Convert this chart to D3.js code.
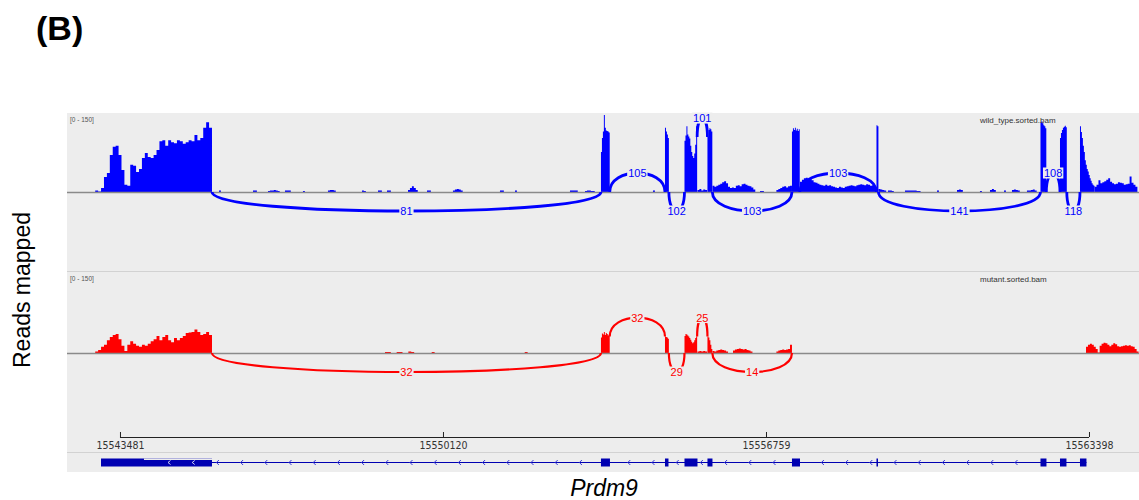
<!DOCTYPE html>
<html><head><meta charset="utf-8">
<script src="https://cdn.jsdelivr.net/npm/d3@7"></script>
<style>body{margin:0;background:#fff;} svg{display:block;}</style>
</head><body><svg id="c" width="1139" height="500"></svg>
<script>
// ================= DATA =================
const locusStart = 15542392, locusEnd = 15564426;
const tickPositions = [15543481, 15550120, 15556759, 15563398];
const tickLabels = ["15543481", "15550120", "15556759", "15563398"];
const dataRange = [0, 150];
const rangeLabel = "[0 - 150]";
const trackNames = ["wild_type.sorted.bam", "mutant.sorted.bam"];
const geneName = "Prdm9";
const panelLabel = "(B)";
const yTitle = "Reads mapped";

// coverage segments: [start, bin size (bp), read depth per bin]
const wtCoverage = [
  [15542972, 60, [3,1,8,29,37,72,88,90,72,43,14,12,53,51,39,45,66,76,68,66,72,82,99,101,90,101,97,95,101,99,94,97,101,99,111,101,105,125,136,125]],
  [15545516, 40, [3]], [15546215, 40, [3,3]], [15546523, 40, [2,3,3,4,3,2]],
  [15546872, 40, [3,3,3]], [15547242, 40, [2]], [15547756, 40, [3,4,4,3]],
  [15548455, 40, [3,2]], [15548784, 40, [3,3]], [15548969, 40, [3,3]],
  [15549401, 40, [4,8,11,8,4]], [15549791, 40, [3,3]], [15550325, 40, [3,5,6,5,3]],
  [15551291, 40, [3,3]], [15551600, 40, [3]], [15552730, 40, [3,3,3,3]],
  [15553039, 40, [2,3,3,2,2]],
  [15553367, 20, [78,105,118,150,125,120,119,118,116]],
  [15554436, 40, [3]],
  [15554683, 20, [125,118,112,105]],
  [15555084, 20, [100,110,128,112,108,104,90,78,70,66,75,92,128]],
  [15555350, 40, [4,6,3,5,4]],
  [15555556, 20, [107,121,124,122,118]],
  [15555659, 40, [12,10,12,14,16,19,21,17,10,8,9,8,12,13,11,15,16,14,12,11,9,5]],
  [15556636, 40, [2,2]],
  [15556973, 40, [4,6,8,10,11,9,11,12]],
  [15557293, 20, [118,124,121,125,120,123,119,122]],
  [15557458, 40, [20,24,27,28,26,27,23,19,18,16,14,13,12,14,12,13,11,10,9,8,10,9,8,10,11,12,13,12,11,13,14,15,14,13,15,14,12,13,11]],
  [15559030, 20, [130,128]],
  [15559070, 40, [6,5,4,3]],
  [15559266, 40, [3,3,2]], [15559616, 40, [3,3,3,3,3,3,2,2]], [15560274, 40, [3]],
  [15560685, 40, [4,5,4]], [15561157, 40, [2]], [15561363, 40, [4,6,4]],
  [15561651, 40, [3]], [15561815, 40, [4,5,4,3]], [15562123, 40, [3,3,4,5,3]],
  [15562401, 20, [136,138,134,130,128,124]],
  [15562802, 20, [105,115,121,125,127,129,126]],
  [15563213, 20, [128,117,105,90,78,62,53,45,40,33,27,22,17,14,12]],
  [15563513, 40, [10,14,23,17,19,21,24,27,20,17,15,16,19,18,17,14,15,16,30,18,14,10]]
];
const mutCoverage = [
  [15542972, 60, [3,6,12,16,25,31,35,37,27,14,4,16,23,18,14,12,16,14,18,23,27,33,25,31,35,25,21,29,25,29,33,39,40,41,46,41,35,37,41,35]],
  [15548928, 60, [2,2,0,0,2,2,0,0,3,2,0,0,0,0,0,0,2]],
  [15551800, 60, [2]],
  [15553367, 20, [30,38,36,41,35,39,37,34,36]],
  [15554683, 20, [32,31,30,28]],
  [15555084, 20, [33,37,36,34,32,29,26,22,19,21,25,29,32]],
  [15555350, 40, [3,4,3,4,3]],
  [15555556, 20, [32,30,25,16,8]],
  [15555659, 40, [4,3,5,6,7,6,5,3]],
  [15556081, 40, [5,7,8,9,8,7,8,6,5,3]],
  [15556973, 40, [3,5,6,7,6,7,8,16]],
  [15563337, 40, [12,16,18,16,12,8,1,14,18,20,19,16,13,16,19,17,13,12,13,14,15,14,15,13,12,8,3]]
];

// splice junctions: [start, end, reads, side]
const wtJunctions = [
  [15545372, 15553367, 81, "below"],
  [15553547, 15554683, 105, "above"],
  [15554763, 15555084, 102, "below"],
  [15555344, 15555556, 101, "above"],
  [15555656, 15557293, 103, "below"],
  [15557453, 15559030, 103, "above"],
  [15559070, 15562401, 141, "below"],
  [15562521, 15562802, 108, "above"],
  [15562942, 15563213, 118, "below"]
];
const mutJunctions = [
  [15545372, 15553367, 32, "below"],
  [15553547, 15554683, 32, "above"],
  [15554763, 15555084, 29, "below"],
  [15555344, 15555556, 25, "above"],
  [15555656, 15557293, 14, "below"]
];

// gene model (minus strand)
const geneExons = [
  [15543091, 15545372], [15553367, 15553552], [15554683, 15554755], [15555084, 15555351],
  [15555556, 15555659], [15557293, 15557458], [15559030, 15559061], [15562401, 15562524],
  [15562802, 15562935], [15563213, 15563346]
];
const geneUTR = [[15543974, 15545372]];

// ================= LAYOUT / DRAW =================
const panel = {left: 67, right: 1139, top: 113, bottom: 472};
const tracks = [
  {name: trackNames[0], cov: wtCoverage, junc: wtJunctions, color: "#0000ff", top: 113, base: 192, arcW: 2.8, lifted: [3]},
  {name: trackNames[1], cov: mutCoverage, junc: mutJunctions, color: "#ff0000", top: 272, base: 353, arcW: 2.2, lifted: [1, 3]}
];
const covHeight = 77, arcDepth = 19;
const axisY = 437, geneY = 462;

const svg = d3.select("#c");
const x = d3.scaleLinear().domain([locusStart, locusEnd]).range([panel.left, panel.right]);

svg.append("rect").attr("x", panel.left).attr("y", panel.top)
  .attr("width", panel.right - panel.left).attr("height", panel.bottom - panel.top)
  .attr("fill", "#ededed");
[271, 452].forEach(yy => svg.append("line").attr("x1", panel.left).attr("x2", panel.right)
  .attr("y1", yy + 0.5).attr("y2", yy + 0.5).attr("stroke", "#d2d2d2").attr("stroke-width", 1));

function covAt(cov, pos) {
  const segs = cov.slice().sort((a, b) => a[0] - b[0]);
  let seg = null;
  segs.forEach(s => { if (s[0] <= pos) seg = s; });
  if (!seg) return 0;
  const i = Math.min(seg[2].length - 1, Math.floor((pos - seg[0]) / seg[1]));
  return seg[2][i];
}

tracks.forEach(t => {
  const g = svg.append("g");
  const y = d3.scaleLinear().domain(dataRange).range([t.base, t.base - covHeight]);
  const area = d3.area().x(d => x(d[0])).y0(t.base).y1(d => y(d[1])).curve(d3.curveStepAfter);
  t.cov.forEach(([s, step, vals]) => {
    const pts = vals.map((v, i) => [s + i * step, v]);
    pts.push([s + vals.length * step, vals[vals.length - 1]]);
    g.append("path").attr("d", area(pts)).attr("fill", t.color);
  });
  g.append("line").attr("x1", panel.left).attr("x2", panel.right)
    .attr("y1", t.base + 0.5).attr("y2", t.base + 0.5).attr("stroke", "#8a8a8a").attr("stroke-width", 1.5);

  g.append("text").attr("x", 70).attr("y", t.top + 9).text(rangeLabel)
    .attr("font-family", "Liberation Sans, Arial, sans-serif").attr("font-size", 6.5).attr("fill", "#555");
  g.append("text").attr("x", 980).attr("y", t.top + 10).text(t.name)
    .attr("font-family", "Liberation Sans, Arial, sans-serif").attr("font-size", 8).attr("fill", "#333");

  // arcs
  t.junc.forEach(([s, e, n, side], i) => {
    const x1 = x(s), x2 = x(e);
    let y0 = t.base;
    if (t.lifted.includes(i)) y0 = y(Math.min(covAt(t.cov, s - 1), covAt(t.cov, e)));
    const dir = side === "above" ? -1 : 1;
    const h = arcDepth / 0.75;
    g.append("path")
      .attr("d", `M${x1},${y0} C${x1},${y0 + dir * h} ${x2},${y0 + dir * h} ${x2},${y0}`)
      .attr("fill", "none").attr("stroke", t.color).attr("stroke-width", t.arcW);
    const lx = (x1 + x2) / 2, ly = y0 + dir * arcDepth;
    const box = g.append("rect").attr("fill", "#ededed");
    const txt = g.append("text").attr("x", lx).attr("y", ly).attr("dy", "0.36em")
      .attr("text-anchor", "middle").attr("font-family", "Liberation Sans, Arial, sans-serif")
      .attr("font-size", 11).attr("fill", t.color).text(n);
    const tw = txt.node().getComputedTextLength();
    box.attr("x", lx - tw / 2 - 1).attr("y", ly - 5.5).attr("width", tw + 2).attr("height", 11);
  });
});

// axis
const axisG = svg.append("g").attr("transform", `translate(0,${axisY})`);
axisG.call(d3.axisBottom(x).tickValues(tickPositions).tickFormat((d, i) => tickLabels[i])
  .tickSizeInner(-5).tickSizeOuter(0).tickPadding(5));
axisG.select(".domain").remove();
axisG.append("line").attr("x1", x(tickPositions[0])).attr("x2", x(tickPositions[tickPositions.length - 1]))
  .attr("y1", 0.5).attr("y2", 0.5).attr("stroke", "#222");
axisG.selectAll(".tick line").attr("stroke", "#222");
axisG.selectAll(".tick text").attr("font-family", "DejaVu Sans, sans-serif").style("font-stretch", "condensed")
  .attr("font-size", 10.5).attr("fill", "#333");

// gene track
const geneCol = "#0000b2";
const gG = svg.append("g");
const gx0 = x(geneExons[0][0]), gx1 = x(geneExons[geneExons.length - 1][1]);
gG.append("line").attr("x1", gx0).attr("x2", gx1).attr("y1", geneY + 0.5).attr("y2", geneY + 0.5)
  .attr("stroke", geneCol).attr("stroke-width", 1);
const inExon = px => geneExons.some(([a, b]) => px >= x(a) - 3 && px <= x(b) + 3);
for (let px = gx0 + 68; px < gx1 - 4; px += 24.2) {
  if (inExon(px)) continue;
  gG.append("path").attr("d", `M${px + 1.5},${geneY - 2} L${px - 1},${geneY + 0.5} L${px + 1.5},${geneY + 3}`)
    .attr("fill", "none").attr("stroke", "#3a3ad8").attr("stroke-width", 1);
}
geneExons.forEach(([a, b]) => {
  gG.append("rect").attr("x", x(a)).attr("y", geneY - 3.5).attr("width", Math.max(1.5, x(b) - x(a)))
    .attr("height", 8).attr("fill", geneCol);
});
geneUTR.forEach(([a, b]) => {
  gG.append("rect").attr("x", x(a)).attr("y", geneY - 3.5).attr("width", x(b) - x(a))
    .attr("height", 1.5).attr("fill", "#ededed");
});
[x(geneExons[0][0]) + 68, x(geneExons[0][0]) + 92.2].forEach(px => {
  gG.append("path").attr("d", `M${px + 1.5},${geneY - 1.5} L${px - 1},${geneY + 0.5} L${px + 1.5},${geneY + 2.5}`)
    .attr("fill", "none").attr("stroke", "#fff").attr("stroke-width", 0.8);
});

// titles
svg.append("text").attr("x", 36).attr("y", 40).text(panelLabel)
  .attr("font-family", "Liberation Sans, Arial, sans-serif").attr("font-weight", "bold").attr("font-size", 34);
svg.append("text").attr("transform", "translate(30,290) rotate(-90)").attr("text-anchor", "middle")
  .text(yTitle).attr("font-family", "Liberation Sans, Arial, sans-serif").attr("font-size", 23);
svg.append("text").attr("x", 604).attr("y", 496).attr("text-anchor", "middle").text(geneName)
  .attr("font-family", "Liberation Sans, Arial, sans-serif").attr("font-style", "italic").attr("font-size", 23);
</script></body></html>
